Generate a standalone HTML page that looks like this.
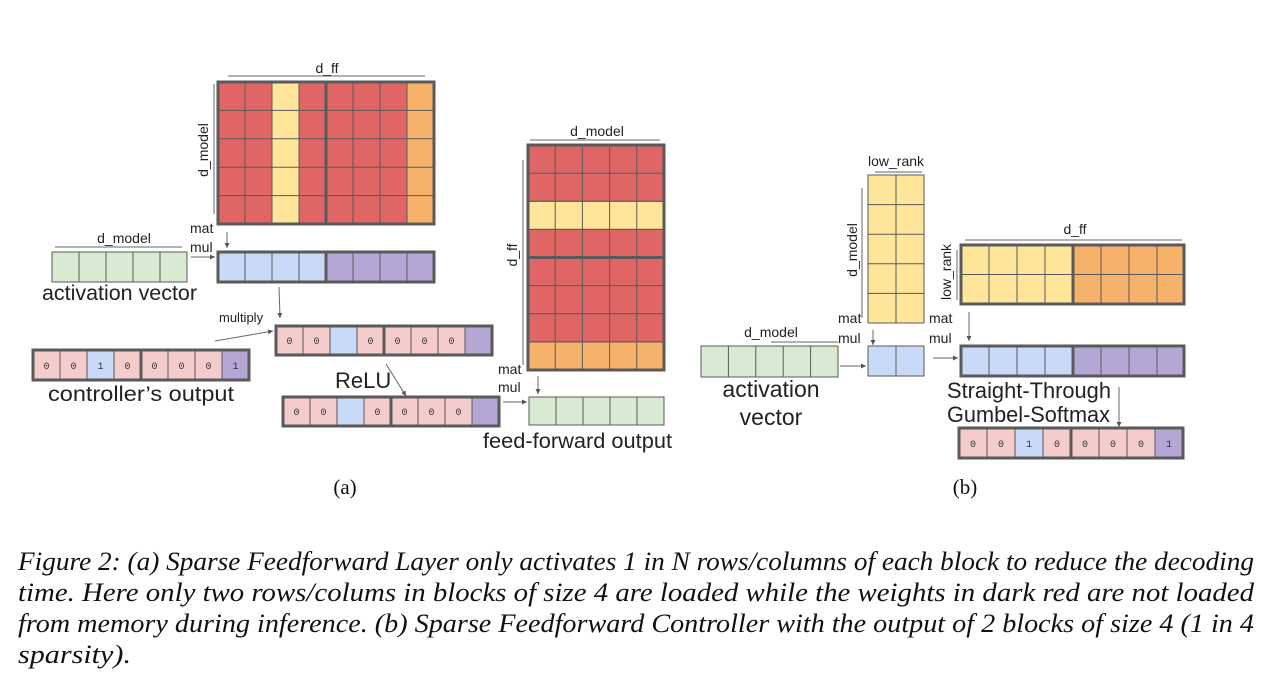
<!DOCTYPE html>
<html><head><meta charset="utf-8"><style>
html,body{margin:0;padding:0;background:#fff;width:1278px;height:691px;overflow:hidden}
svg{display:block}
.l{font-family:"Liberation Sans",sans-serif;fill:#222}
.m{font-family:"Liberation Mono",monospace;font-size:10px;fill:#333;text-anchor:middle}
.cap{font-family:"Liberation Serif",serif;font-style:italic;font-size:26px;fill:#111}
</style></head><body>
<svg width="1278" height="691" viewBox="0 0 1278 691">
<defs><marker id="a" markerWidth="6" markerHeight="6" refX="5" refY="3" orient="auto"><path d="M0,0.5 L5,3 L0,5.5 z" fill="#555"/></marker></defs>
<g stroke="#5a5a5a" stroke-width="1">
<rect x="218" y="82" width="216" height="142" fill="#e06666"/>
<rect x="272" y="82" width="27" height="142" fill="#ffe599"/>
<rect x="407" y="82" width="27" height="142" fill="#f6b26b"/>
<path d="M245 82V224M272 82V224M299 82V224M353 82V224M380 82V224M407 82V224M218 110.4H434M218 138.8H434M218 167.2H434M218 195.6H434"/>
<path d="M326 82V224" stroke-width="3"/>
<rect x="218" y="82" width="216" height="142" fill="none" stroke-width="3"/>
<rect x="218" y="252" width="108" height="30" fill="#c9daf8"/>
<rect x="326" y="252" width="108" height="30" fill="#b4a7d6"/>
<path d="M245 252V282M272 252V282M299 252V282M353 252V282M380 252V282M407 252V282"/>
<path d="M326 252V282" stroke-width="3"/>
<rect x="218" y="252" width="216" height="30" fill="none" stroke-width="3"/>
<rect x="52" y="252" width="135" height="30" fill="#d9ead3"/>
<path d="M79 252V282M106 252V282M133 252V282M160 252V282"/>
<rect x="276" y="326" width="216" height="29" fill="#f4cccc"/>
<rect x="330" y="326" width="27" height="29" fill="#c9daf8"/>
<rect x="465" y="326" width="27" height="29" fill="#b4a7d6"/>
<path d="M303 326V355M330 326V355M357 326V355M411 326V355M438 326V355M465 326V355"/>
<path d="M384 326V355" stroke-width="3"/>
<rect x="276" y="326" width="216" height="29" fill="none" stroke-width="3"/>
<rect x="33" y="350" width="216" height="30" fill="#f4cccc"/>
<rect x="87" y="350" width="27" height="30" fill="#c9daf8"/>
<rect x="222" y="350" width="27" height="30" fill="#b4a7d6"/>
<path d="M60 350V380M87 350V380M114 350V380M168 350V380M195 350V380M222 350V380"/>
<path d="M141 350V380" stroke-width="3"/>
<rect x="33" y="350" width="216" height="30" fill="none" stroke-width="3"/>
<rect x="283" y="397" width="216" height="29" fill="#f4cccc"/>
<rect x="337" y="397" width="27" height="29" fill="#c9daf8"/>
<rect x="472" y="397" width="27" height="29" fill="#b4a7d6"/>
<path d="M310 397V426M337 397V426M364 397V426M418 397V426M445 397V426M472 397V426"/>
<path d="M391 397V426" stroke-width="3"/>
<rect x="283" y="397" width="216" height="29" fill="none" stroke-width="3"/>
<rect x="528" y="145" width="136" height="225" fill="#e06666"/>
<rect x="528" y="201.25" width="136" height="28.15" fill="#ffe599"/>
<rect x="528" y="341.9" width="136" height="28.1" fill="#f6b26b"/>
<path d="M555.2 145V370M582.4 145V370M609.6 145V370M636.8 145V370M528 173.1H664M528 201.25H664M528 229.4H664M528 285.6H664M528 313.75H664M528 341.9H664"/>
<path d="M528 257.5H664" stroke-width="3"/>
<rect x="528" y="145" width="136" height="225" fill="none" stroke-width="3"/>
<rect x="529" y="397" width="135" height="28" fill="#d9ead3"/>
<path d="M556 397V425M583 397V425M610 397V425M637 397V425"/>
<rect x="868" y="175" width="56" height="148" fill="#ffe599"/>
<path d="M896 175V323M868 204.6H924M868 234.2H924M868 263.8H924M868 293.4H924"/>
<rect x="868" y="346" width="56" height="30" fill="#c9daf8"/>
<path d="M896 346V376"/>
<rect x="701" y="346" width="137" height="31" fill="#d9ead3"/>
<path d="M728.4 346V377M755.8 346V377M783.2 346V377M810.6 346V377"/>
<rect x="961" y="245" width="112" height="59" fill="#ffe599"/>
<rect x="1073" y="245" width="111" height="59" fill="#f6b26b"/>
<path d="M989 245V304M1017 245V304M1045 245V304M1101 245V304M1129 245V304M1157 245V304M961 274.5H1184"/>
<path d="M1073 245V304" stroke-width="3"/>
<rect x="961" y="245" width="223" height="59" fill="none" stroke-width="3"/>
<rect x="961" y="346" width="112" height="30" fill="#c9daf8"/>
<rect x="1073" y="346" width="111" height="30" fill="#b4a7d6"/>
<path d="M989 346V376M1017 346V376M1045 346V376M1101 346V376M1129 346V376M1157 346V376"/>
<path d="M1073 346V376" stroke-width="3"/>
<rect x="961" y="346" width="223" height="30" fill="none" stroke-width="3"/>
<rect x="959" y="428" width="224" height="30" fill="#f4cccc"/>
<rect x="1015" y="428" width="28" height="30" fill="#c9daf8"/>
<rect x="1155" y="428" width="28" height="30" fill="#b4a7d6"/>
<path d="M987 428V458M1015 428V458M1043 428V458M1099 428V458M1127 428V458M1155 428V458"/>
<path d="M1071 428V458" stroke-width="3"/>
<rect x="959" y="428" width="224" height="30" fill="none" stroke-width="3"/>
</g>
<g stroke="#666" stroke-width="1" fill="none">
<path d="M228 76H425M214 84V214M55 247H182M530 140H660M523 160V365M875 172H922M862 188V318M771 342H838M965 240H1182M957 250V300"/>
<path d="M227 232V248" marker-end="url(#a)"/>
<path d="M191 257H215" marker-end="url(#a)"/>
<path d="M279 287L280 318" marker-end="url(#a)"/>
<path d="M215 341L273 331" marker-end="url(#a)"/>
<path d="M386 364L406 396" marker-end="url(#a)"/>
<path d="M538 376V394" marker-end="url(#a)"/>
<path d="M503 402H527" marker-end="url(#a)"/>
<path d="M873 330V345" marker-end="url(#a)"/>
<path d="M840 366H866" marker-end="url(#a)"/>
<path d="M969 312V341" marker-end="url(#a)"/>
<path d="M933 358H958" marker-end="url(#a)"/>
<path d="M1119 387V427" marker-end="url(#a)"/>
</g>
<g class="l" font-size="14">
<text x="327" y="73" text-anchor="middle">d_ff</text>
<text transform="translate(208,150) rotate(-90)" text-anchor="middle">d_model</text>
<text x="124" y="243" text-anchor="middle">d_model</text>
<text x="190" y="233">mat</text><text x="190" y="252">mul</text>
<text x="219" y="322" font-size="13">multiply</text>
<text x="597" y="136" text-anchor="middle">d_model</text>
<text transform="translate(517,255) rotate(-90)" text-anchor="middle">d_ff</text>
<text x="498" y="374">mat</text><text x="498" y="392">mul</text>
<text x="896" y="166" text-anchor="middle">low_rank</text>
<text transform="translate(857,250) rotate(-90)" text-anchor="middle">d_model</text>
<text x="771" y="337" text-anchor="middle">d_model</text>
<text x="838" y="323">mat</text><text x="838" y="343">mul</text>
<text x="1075" y="234" text-anchor="middle">d_ff</text>
<text transform="translate(951,272) rotate(-90)" text-anchor="middle">low_rank</text>
<text x="929" y="323">mat</text><text x="929" y="343">mul</text>
</g>
<g class="l" font-size="21">
<text x="42" y="300" textLength="155" lengthAdjust="spacingAndGlyphs">activation vector</text>
<text x="48" y="401" textLength="186" lengthAdjust="spacingAndGlyphs">controller’s output</text>
<text x="335" y="388" font-size="22">ReLU</text>
<text x="483" y="448" textLength="189" lengthAdjust="spacingAndGlyphs">feed-forward output</text>
<text x="771" y="397" text-anchor="middle" font-size="23">activation</text>
<text x="771" y="425" text-anchor="middle" font-size="23">vector</text>
<text x="947" y="398" textLength="164" lengthAdjust="spacingAndGlyphs" font-size="22">Straight-Through</text>
<text x="947" y="422" textLength="163" lengthAdjust="spacingAndGlyphs" font-size="22">Gumbel-Softmax</text>
</g>
<g class="m">
<text x="46.5" y="369">0</text><text x="73.5" y="369">0</text><text x="100.5" y="369">1</text><text x="127.5" y="369">0</text><text x="154.5" y="369">0</text><text x="181.5" y="369">0</text><text x="208.5" y="369">0</text><text x="235.5" y="369">1</text>
<text x="289.5" y="344">0</text><text x="316.5" y="344">0</text><text x="370.5" y="344">0</text><text x="397.5" y="344">0</text><text x="424.5" y="344">0</text><text x="451.5" y="344">0</text>
<text x="296.5" y="415">0</text><text x="323.5" y="415">0</text><text x="377.5" y="415">0</text><text x="404.5" y="415">0</text><text x="431.5" y="415">0</text><text x="458.5" y="415">0</text>
<text x="973" y="447">0</text><text x="1001" y="447">0</text><text x="1029" y="447">1</text><text x="1057" y="447">0</text><text x="1085" y="447">0</text><text x="1113" y="447">0</text><text x="1141" y="447">0</text><text x="1169" y="447">1</text>
</g>
<text x="345" y="494" text-anchor="middle" font-family="Liberation Serif,serif" font-size="21" fill="#111">(a)</text>
<text x="965" y="494" text-anchor="middle" font-family="Liberation Serif,serif" font-size="21" fill="#111">(b)</text>
<g class="cap">
<text x="18" y="570" textLength="1236" lengthAdjust="spacingAndGlyphs">Figure 2: (a) Sparse Feedforward Layer only activates 1 in N rows/columns of each block to reduce the decoding</text>
<text x="18" y="601" textLength="1236" lengthAdjust="spacingAndGlyphs">time. Here only two rows/colums in blocks of size 4 are loaded while the weights in dark red are not loaded</text>
<text x="18" y="632" textLength="1236" lengthAdjust="spacingAndGlyphs">from memory during inference. (b) Sparse Feedforward Controller with the output of 2 blocks of size 4 (1 in 4</text>
<text x="18" y="663" textLength="113" lengthAdjust="spacingAndGlyphs">sparsity).</text>
</g>
</svg>
</body></html>
